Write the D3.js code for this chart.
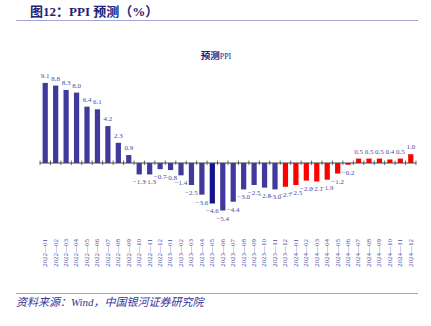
<!DOCTYPE html>
<html>
<head>
<meta charset="utf-8">
<script src="https://cdn.jsdelivr.net/npm/d3@7"></script>
<style>
  html, body { margin: 0; padding: 0; background: #fff; }
  svg { display: block; }
</style>
</head>
<body>
<script>
// months and PPI yoy (%)
let months = [
  "2022-01","2022-02","2022-03","2022-04","2022-05","2022-06","2022-07","2022-08","2022-09","2022-10","2022-11","2022-12",
  "2023-01","2023-02","2023-03","2023-04","2023-05","2023-06","2023-07","2023-08","2023-09","2023-10","2023-11","2023-12",
  "2024-01","2024-02","2024-03","2024-04","2024-05","2024-06","2024-07","2024-08","2024-09","2024-10","2024-11","2024-12"
];
let ppi = [
  9.1, 8.8, 8.3, 8.0, 6.4, 6.1, 4.2, 2.3, 0.9, -1.3, -1.3, -0.7,
  -0.8, -1.4, -2.5, -3.6, -4.6, -5.4, -4.4, -3.0, -2.5, -2.8, -3.0, -2.7,
  -2.5, -2.0, -2.1, -1.9, -1.2, -0.2, 0.5, 0.5, 0.5, 0.4, 0.5, 1.0
];
// first forecast month
let forecast_from = "2023-12";

// colors
let color_actual = "#413a9c";
let color_dark = "#14128e";
let color_forecast = "#ff0000";
let color_text = "#4a4aa2";
let color_title = "#222277";
let color_rule = "#a3a3d6";

let width = 431, height = 326;

let svg = d3.select("body").append("svg")
  .attr("width", width)
  .attr("height", height);

// page title + rule
svg.append("text")
  .attr("x", 30).attr("y", 16)
  .attr("font-family", "'Liberation Serif', 'Noto Sans CJK SC', serif")
  .attr("font-weight", "bold")
  .attr("font-size", 13)
  .attr("fill", color_title)
  .text("图12：PPI 预测（%）");

svg.append("line")
  .attr("x1", 16).attr("x2", 418)
  .attr("y1", 20.5).attr("y2", 20.5)
  .attr("stroke", color_rule).attr("stroke-width", 1);

// chart title
let ct = svg.append("text")
  .attr("x", 216).attr("y", 59)
  .attr("text-anchor", "middle")
  .attr("fill", "#1a1a80");
ct.append("tspan")
  .attr("font-family", "'Noto Sans CJK SC', sans-serif")
  .attr("font-weight", "bold")
  .attr("font-size", 9.5)
  .text("预测");
ct.append("tspan")
  .attr("font-family", "'Liberation Serif', serif")
  .attr("font-size", 8)
  .text("PPI");

// scales
let x = d3.scaleBand()
  .domain(months)
  .range([40, 416])
  .paddingInner(0.5)
  .paddingOuter(0.25);

let y = d3.scaleLinear()
  .domain([-6, 10])
  .range([215.8, 75]);

let step = x.step();
let bw = x.bandwidth();
let y0 = y(0);

function bar_color(m, i) {
  if (m >= forecast_from) return color_forecast;
  if (m === "2023-05") return color_dark;
  return color_actual;
}

// bars
svg.append("g")
  .selectAll("rect")
  .data(months)
  .join("rect")
  .attr("x", d => x(d))
  .attr("width", bw)
  .attr("y", (d, i) => Math.min(y(ppi[i]), y0))
  .attr("height", (d, i) => Math.abs(y(ppi[i]) - y0))
  .attr("fill", bar_color);

// zero axis with ticks between bars
svg.append("line")
  .attr("x1", 40).attr("x2", 416)
  .attr("y1", y0).attr("y2", y0)
  .attr("stroke", "#444").attr("stroke-width", 1);

svg.append("g")
  .selectAll("line")
  .data(d3.range(months.length + 1))
  .join("line")
  .attr("x1", i => x(months[0]) + bw / 2 - step / 2 + i * step)
  .attr("x2", i => x(months[0]) + bw / 2 - step / 2 + i * step)
  .attr("y1", y0 - 2.5)
  .attr("y2", y0 + 2)
  .attr("stroke", "#444").attr("stroke-width", 0.8);

// value labels
let fmt = d3.format(".1f");
svg.append("g")
  .selectAll("text")
  .data(months)
  .join("text")
  .attr("x", d => x(d) + bw / 2)
  .attr("y", (d, i) => ppi[i] >= 0 ? y(ppi[i]) - 5 : y(ppi[i]) + 10)
  .attr("text-anchor", "middle")
  .attr("font-family", "'Liberation Serif', serif")
  .attr("font-size", 7)
  .attr("fill", color_text)
  .text((d, i) => ppi[i] < 0 ? "\u2212" + fmt(-ppi[i]) : fmt(ppi[i]));

// month labels, vertical
svg.append("g")
  .selectAll("text")
  .data(months)
  .join("text")
  .attr("transform", d => `translate(${x(d) + bw / 2},239) rotate(-90)`)
  .attr("dy", "0.35em")
  .attr("text-anchor", "end")
  .attr("font-family", "'Liberation Serif', serif")
  .attr("font-size", 5.5)
  .attr("textLength", 28)
  .attr("lengthAdjust", "spacingAndGlyphs")
  .attr("fill", color_text)
  .text(d => d.replace("-", "\u2014"));

// source rule + note
svg.append("line")
  .attr("x1", 16).attr("x2", 418)
  .attr("y1", 293.5).attr("y2", 293.5)
  .attr("stroke", color_rule).attr("stroke-width", 1);

svg.append("text")
  .attr("x", 16).attr("y", 306)
  .attr("font-family", "'Liberation Serif', 'Noto Sans CJK SC', serif")
  .attr("font-style", "italic")
  .attr("font-size", 11)
  .attr("fill", "#33339a")
  .text("资料来源：Wind，中国银河证券研究院");
</script>
</body>
</html>
